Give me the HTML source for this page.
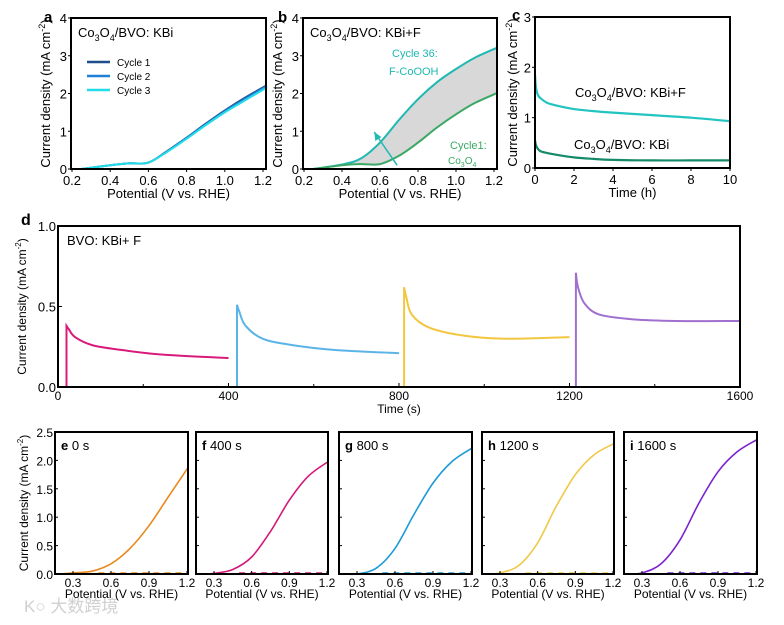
<!DOCTYPE html>
<html><head><meta charset="utf-8">
<style>
html,body{margin:0;padding:0;background:#fff;}
svg{display:block;font-family:"Liberation Sans",Arial,sans-serif;}
</style></head>
<body>
<svg id="fig" width="784" height="625" viewBox="0 0 784 625" xmlns="http://www.w3.org/2000/svg">
<text x="24" y="612" font-family="Liberation Sans, Noto Sans CJK SC, sans-serif" font-size="17" fill="#d0d0d0">K○ 大数跨境</text>
</svg>
<script>
// ---- data ----
const aX = [0.25,0.4,0.5,0.6,0.7,0.8,0.9,1.0,1.1,1.22];
const aCycle1 = [0,0.1,0.15,0.17,0.48,0.83,1.2,1.55,1.87,2.22];
const aCycle2 = [0,0.1,0.15,0.17,0.47,0.82,1.18,1.53,1.84,2.2];
const aCycle3 = [0,0.1,0.15,0.17,0.46,0.8,1.16,1.5,1.8,2.16];
const bX = [0.25,0.4,0.5,0.6,0.7,0.8,0.9,1.0,1.1,1.22];
const bCycle36 = [0,0.12,0.28,0.7,1.3,1.85,2.3,2.65,2.95,3.22];
const bCycle1 = [0,0.1,0.13,0.13,0.35,0.7,1.1,1.45,1.75,2.02];
const cT = [0,0.05,0.15,0.3,0.6,1,2,3,4,6,8,10];
const cKBiF = [1.85,1.6,1.45,1.38,1.3,1.25,1.17,1.13,1.1,1.05,1.0,0.93];
const cKBi = [0.55,0.45,0.38,0.33,0.3,0.27,0.21,0.18,0.16,0.15,0.15,0.15];
const dT1 = [0,20,20,25,40,80,150,250,400];
const dJ1 = [0,0,0.38,0.36,0.31,0.26,0.23,0.2,0.18];
const dT2 = [400,420,420,425,440,480,550,650,800];
const dJ2 = [0,0,0.51,0.47,0.38,0.3,0.26,0.23,0.21];
const dT3 = [800,812,812,817,830,870,950,1050,1200];
const dJ3 = [0,0,0.62,0.56,0.45,0.37,0.32,0.3,0.31];
const dT4 = [1200,1215,1215,1220,1235,1270,1350,1450,1600];
const dJ4 = [0,0,0.71,0.62,0.52,0.45,0.42,0.41,0.41];
const lsvX = [0.2,0.3,0.45,0.6,0.75,0.9,1.05,1.21];
const eJ = [0,0.02,0.05,0.18,0.45,0.85,1.35,1.88];
const fJ = [0,0.01,0.08,0.3,0.75,1.3,1.72,1.98];
const gJ = [0,0.0,0.1,0.45,1.05,1.6,1.98,2.22];
const hJ = [0,0.02,0.15,0.55,1.2,1.75,2.1,2.3];
const iJ = [0,0.02,0.18,0.6,1.25,1.8,2.15,2.37];
const abXTicks = ["0.2","0.4","0.6","0.8","1.0","1.2"];
const abYTicks = ["0","1","2","3","4"];
const cXTicks = ["0","2","4","6","8","10"];
const cYTicks = ["0","1","2","3"];
const dXTicks = ["0","400","800","1200","1600"];
const dYTicks = ["0.0","0.5","1.0"];
const lsvXTicks = ["0.3","0.6","0.9","1.2"];
const lsvYTicks = ["0.0","0.5","1.0","1.5","2.0","2.5"];

const NS="http://www.w3.org/2000/svg";
const svg=document.getElementById('fig');
function el(tag,attrs,parent,text){const e=document.createElementNS(NS,tag);for(const k in attrs)e.setAttribute(k,attrs[k]);if(text!==undefined)e.textContent=text;(parent||svg).appendChild(e);return e;}
function scale(d0,d1,r0,r1){return v=>r0+(v-d0)/(d1-d0)*(r1-r0);}
function smooth(pts){let d="M"+pts[0][0].toFixed(1)+","+pts[0][1].toFixed(1);
 for(let i=0;i<pts.length-1;i++){const p0=pts[i-1]||pts[i],p1=pts[i],p2=pts[i+1],p3=pts[i+2]||p2;
 const c1=[p1[0]+(p2[0]-p0[0])/6,p1[1]+(p2[1]-p0[1])/6],c2=[p2[0]-(p3[0]-p1[0])/6,p2[1]-(p3[1]-p1[1])/6];
 d+=" C"+c1[0].toFixed(1)+","+c1[1].toFixed(1)+" "+c2[0].toFixed(1)+","+c2[1].toFixed(1)+" "+p2[0].toFixed(1)+","+p2[1].toFixed(1);}return d;}
function lineD(pts){return "M"+pts.map(p=>p[0].toFixed(1)+","+p[1].toFixed(1)).join(" L");}

function panel(g,L,R,T,B,name){const r=el('rect',{x:L,y:T,width:R-L,height:B-T,fill:'none',stroke:'#000','stroke-width':2},g);
 }

function axesTop(p,xt,yt,xv,yv,xtitle,ytitle,letter,lx){
 const {g,L,R,T,B,sx,sy}=p;
 xt.forEach((t,i)=>{const x=sx(xv[i]);el('line',{x1:x,y1:B,x2:x,y2:B+3,stroke:'#000','stroke-width':1},g);
  const e=el('text',{x:x,y:B+16,'font-size':13,'text-anchor':'middle'},g,t);});
 yt.forEach((t,i)=>{const y=sy(yv[i]);el('line',{x1:L-3,y1:y,x2:L,y2:y,stroke:'#000','stroke-width':1},g);
  const e=el('text',{x:L-4,y:y+5,'font-size':13,'text-anchor':'end'},g,t);});
 const xtEl=el('text',{x:(L+R)/2,y:B+29,'font-size':13,'text-anchor':'middle'},g,xtitle);
 const yc=(T+B)/2;const yEl=el('text',{x:lx,y:yc,'font-size':13,'text-anchor':'middle',transform:`rotate(-90 ${lx} ${yc})`},g);
 
 el('tspan',{},yEl,ytitle[0]);el('tspan',{dy:-5,'font-size':9},yEl,ytitle[1]);el('tspan',{dy:5},yEl,")");
 if(letter){const le=el('text',{x:letter[1],y:letter[2],'font-size':15,'font-weight':'bold'},g,letter[0]);}
}
const yT=["Current density (mA cm","-2"];
// a
{const p={L:71,R:266,T:18,B:169};const g=el('g',{});p.g=g;
 p.sx=scale(0.2,1.2,72,263);p.sy=scale(0,4,p.B,p.T);
 const cols=['#1f4e8c','#1e80d8','#22dde8'];
 [aCycle1,aCycle2,aCycle3].forEach((s,k)=>{const path=el('path',{d:smooth(aX.map((x,i)=>[p.sx(x),p.sy(s[i])])),fill:'none',stroke:cols[k],'stroke-width':2},g);
  
  el('line',{x1:87,y1:62+k*14,x2:110,y2:62+k*14,stroke:cols[k],'stroke-width':2.5},g);
  const t=el('text',{x:117,y:66+k*14,'font-size':10},g,'Cycle '+(k+1));});
 panel(g,p.L,p.R,p.T,p.B,'panel-a');
 const tt=el('text',{x:78,y:37,'font-size':13},g);
 el('tspan',{},tt,'Co');el('tspan',{dy:4,'font-size':9},tt,'3');el('tspan',{dy:-4},tt,'O');el('tspan',{dy:4,'font-size':9},tt,'4');el('tspan',{dy:-4},tt,'/BVO: KBi');
 axesTop(p,abXTicks,abYTicks,[0.2,0.4,0.6,0.8,1.0,1.2],[0,1,2,3,4],'Potential (V vs. RHE)',yT,['a',44,22],50);}
// b
{const p={L:303,R:497,T:18,B:169};const g=el('g',{});p.g=g;
 p.sx=scale(0.2,1.2,304,494);p.sy=scale(0,4,p.B,p.T);
 const top=bX.map((x,i)=>[p.sx(x),p.sy(bCycle36[i])]),bot=bX.map((x,i)=>[p.sx(x),p.sy(bCycle1[i])]);
 const fill=el('path',{d:lineD(top.concat(bot.slice().reverse()))+'Z',fill:'#d8d8d8',stroke:'none'},g);
 const l1=el('path',{d:smooth(top),fill:'none',stroke:'#1fb8b2','stroke-width':2},g);
 const l2=el('path',{d:smooth(bot),fill:'none',stroke:'#3aa864','stroke-width':2},g);
 const ax1=p.sx(0.69),ay1=p.sy(0.1),ax2=p.sx(0.57),ay2=p.sy(0.98);
 const ar=el('line',{x1:ax1,y1:ay1,x2:ax2,y2:ay2,stroke:'#1fb8b2','stroke-width':1.5},g);
 el('polygon',{points:`${ax2},${ay2} ${ax2+1},${ay2+9} ${ax2+7},${ay2+5}`,fill:'#1fb8b2'},g);
 panel(g,p.L,p.R,p.T,p.B,'panel-b');
 const tt=el('text',{x:310,y:37,'font-size':13},g);
 el('tspan',{},tt,'Co');el('tspan',{dy:4,'font-size':9},tt,'3');el('tspan',{dy:-4},tt,'O');el('tspan',{dy:4,'font-size':9},tt,'4');el('tspan',{dy:-4},tt,'/BVO: KBi+F');
 const c1=el('text',{x:392,y:57,'font-size':11,fill:'#1fb8b2'},g,'Cycle 36:');
 el('text',{x:389,y:75,'font-size':11,fill:'#1fb8b2'},g,'F-CoOOH');
 const c2=el('text',{x:450,y:149,'font-size':11,fill:'#3aa864'},g,'Cycle1:');
 const c3=el('text',{x:448,y:164,'font-size':10,fill:'#3aa864'},g);el('tspan',{},c3,'Co');el('tspan',{dy:3,'font-size':7},c3,'3');el('tspan',{dy:-3},c3,'O');el('tspan',{dy:3,'font-size':7},c3,'4');
 axesTop(p,abXTicks,abYTicks,[0.2,0.4,0.6,0.8,1.0,1.2],[0,1,2,3,4],'Potential (V vs. RHE)',yT,['b',278,22],282);}
// c
{const p={L:535,R:730,T:17,B:168};const g=el('g',{});p.g=g;
 p.sx=scale(0,10,535,730);p.sy=scale(0,3,p.B,p.T);
 const l1=el('path',{d:smooth(cT.map((t,i)=>[p.sx(t),p.sy(cKBiF[i])])),fill:'none',stroke:'#22c4c0','stroke-width':2.2},g);
 const l2=el('path',{d:smooth(cT.map((t,i)=>[p.sx(t),p.sy(cKBi[i])])),fill:'none',stroke:'#158a68','stroke-width':2.2},g);
 panel(g,p.L,p.R,p.T,p.B,'panel-c');
 [['/BVO: KBi+F',575,97,'kbi-f-label'],['/BVO: KBi',574,149,'kbi-label']].forEach(a=>{const tt=el('text',{x:a[1],y:a[2],'font-size':13},g);
 el('tspan',{},tt,'Co');el('tspan',{dy:4,'font-size':9},tt,'3');el('tspan',{dy:-4},tt,'O');el('tspan',{dy:4,'font-size':9},tt,'4');el('tspan',{dy:-4},tt,a[0]);});
 axesTop(p,cXTicks,cYTicks,[0,2,4,6,8,10],[0,1,2,3],'Time (h)',yT,['c',512,20],517);}
// d
{const L=58,R=740,T=226,B=387;const g=el('g',{});
 const sx=scale(0,1600,L,R),sy=scale(0,1,B,T);
 const cols=['#d81b7a','#5bb4e8','#f3c640','#a070d0'];
 [[dT1,dJ1],[dT2,dJ2],[dT3,dJ3],[dT4,dJ4]].forEach((s,k)=>{const pts=s[0].map((t,i)=>[sx(t),sy(s[1][i])]);
  const d=lineD(pts.slice(0,3))+" "+smooth(pts.slice(2)).replace('M','L');
  const pa=el('path',{d:d,fill:'none',stroke:cols[k],'stroke-width':2},g);});
 panel(g,L,R,T,B,'panel-d');
 dXTicks.forEach((t,i)=>{const x=sx(+t);el('line',{x1:x,y1:B,x2:x,y2:B-4,stroke:'#000'},g);if(i<4)el('line',{x1:sx(+t+200),y1:B,x2:sx(+t+200),y2:B-3,stroke:'#000'},g);
  const e=el('text',{x:x,y:B+13,'font-size':12,'text-anchor':'middle'},g,t);});
 dYTicks.forEach(t=>{const y=sy(+t);el('line',{x1:L,y1:y,x2:L+4,y2:y,stroke:'#000'},g);
  const e=el('text',{x:L-2,y:y+5,'font-size':13,'text-anchor':'end'},g,t);});
 const xt=el('text',{x:399,y:413,'font-size':12,'text-anchor':'middle'},g,'Time (s)');
 const yc=(T+B)/2;const ye=el('text',{x:26,y:yc,'font-size':12,'text-anchor':'middle',transform:`rotate(-90 26 ${yc})`},g);
 el('tspan',{},ye,yT[0]);el('tspan',{dy:-5,'font-size':8},ye,yT[1]);el('tspan',{dy:5},ye,')');
 const ti=el('text',{x:67,y:245,'font-size':13},g,'BVO: KBi+ F');
 el('text',{x:21,y:225,'font-size':16,'font-weight':'bold'},g,'d');}
// e-i
const lsvPanels=[['e','0 s',55,188,eJ,'#e8891e'],['f','400 s',196,328,fJ,'#d4187a'],['g','800 s',339,472,gJ,'#1e9ad6'],['h','1200 s',482,614,hJ,'#f0c84a'],['i','1600 s',624,757,iJ,'#7b22d0']];
lsvPanels.forEach((P,k)=>{const L=P[2],R=P[3],T=432,B=574;const g=el('g',{});
 const sx=scale(0.3,1.2,L+18,R-1),sy=scale(0,2.5,B,T);
 const bl=el('line',{x1:sx(0.5),y1:B-1,x2:R-3,y2:B-1,stroke:P[5],'stroke-width':1.5,'stroke-dasharray':'6 5'},g);
 const pa=el('path',{d:smooth(lsvX.map((x,i)=>[sx(x),sy(P[4][i])])),fill:'none',stroke:P[5],'stroke-width':1.6},g);
 panel(g,L,R,T,B,'panel-'+P[0]);
 lsvXTicks.forEach(t=>{const x=sx(+t);el('line',{x1:x,y1:B,x2:x,y2:B-3,stroke:'#000'},g);
  const e=el('text',{x:x,y:B+13,'font-size':12,'text-anchor':'middle'},g,t);});
 lsvYTicks.forEach(t=>{const y=sy(+t);el('line',{x1:L,y1:y,x2:L+3,y2:y,stroke:'#000'},g);
  if(k===0){const e=el('text',{x:L-2,y:y+5,'font-size':12,'text-anchor':'end'},g,t);}});
 const xt=el('text',{x:(L+R)/2,y:B+24,'font-size':12,'text-anchor':'middle'},g,'Potential (V vs. RHE)');
 const ti=el('text',{x:L+6,y:T+18,'font-size':13},g);
 el('tspan',{'font-weight':'bold'},ti,P[0]);el('tspan',{},ti,' '+P[1]);
 if(k===0){const yc=(T+B)/2;const ye=el('text',{x:28,y:yc,'font-size':12,'text-anchor':'middle',transform:`rotate(-90 28 ${yc})`},g);
 el('tspan',{},ye,yT[0]);el('tspan',{dy:-5,'font-size':8},ye,yT[1]);el('tspan',{dy:5},ye,')');}
});
</script>
</body></html>
